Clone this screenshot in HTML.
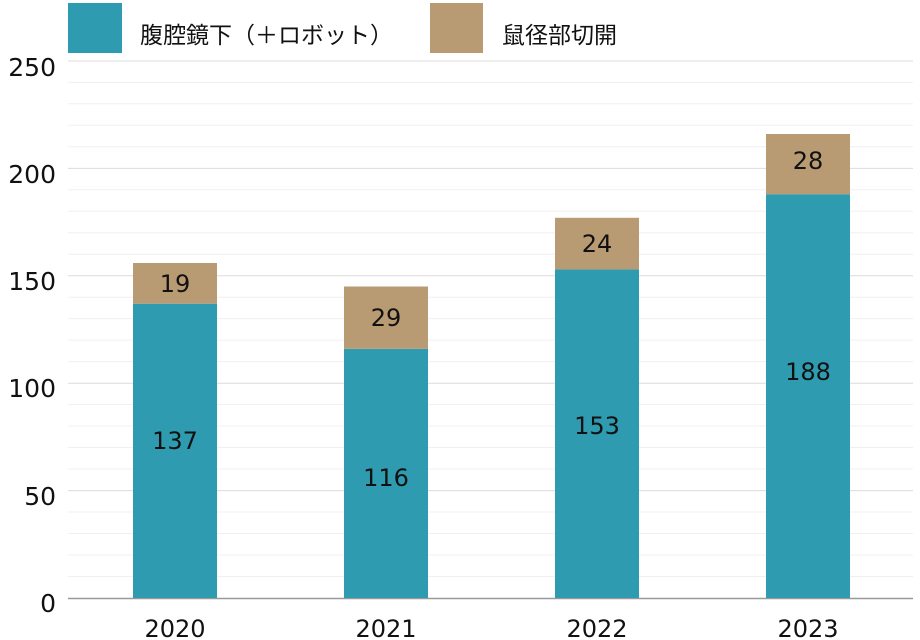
<!DOCTYPE html>
<html><head><meta charset="utf-8"><style>
html,body{margin:0;padding:0;background:#fff;width:920px;height:640px;overflow:hidden}
text{font-family:"DejaVu Sans","Noto Sans CJK JP",sans-serif}
</style></head><body>
<svg width="920" height="640" xmlns="http://www.w3.org/2000/svg">
<g stroke="#f0f0f0" stroke-width="1">
<line x1="68" x2="913" y1="576.5" y2="576.5"/><line x1="68" x2="913" y1="555" y2="555"/><line x1="68" x2="913" y1="533.5" y2="533.5"/><line x1="68" x2="913" y1="512" y2="512"/>
<line x1="68" x2="913" y1="469" y2="469"/><line x1="68" x2="913" y1="447.5" y2="447.5"/><line x1="68" x2="913" y1="426" y2="426"/><line x1="68" x2="913" y1="404.5" y2="404.5"/>
<line x1="68" x2="913" y1="361.6" y2="361.6"/><line x1="68" x2="913" y1="340.1" y2="340.1"/><line x1="68" x2="913" y1="318.6" y2="318.6"/><line x1="68" x2="913" y1="297.2" y2="297.2"/>
<line x1="68" x2="913" y1="254.2" y2="254.2"/><line x1="68" x2="913" y1="232.7" y2="232.7"/><line x1="68" x2="913" y1="211.2" y2="211.2"/><line x1="68" x2="913" y1="189.8" y2="189.8"/>
<line x1="68" x2="913" y1="146.8" y2="146.8"/><line x1="68" x2="913" y1="125.3" y2="125.3"/><line x1="68" x2="913" y1="103.8" y2="103.8"/><line x1="68" x2="913" y1="82.4" y2="82.4"/>
</g>
<g stroke="#dcdcdc" stroke-width="1">
<line x1="68" x2="913" y1="490.6" y2="490.6"/><line x1="68" x2="913" y1="383.2" y2="383.2"/><line x1="68" x2="913" y1="275.8" y2="275.8"/><line x1="68" x2="913" y1="168.4" y2="168.4"/><line x1="68" x2="913" y1="61" y2="61"/>
</g>
<line x1="68" x2="913" y1="598.5" y2="598.5" stroke="#999" stroke-width="1.5"/>
<g font-size="25" fill="#111" text-anchor="end">
<text x="56" y="612">0</text><text x="56" y="505">50</text><text x="56" y="397">100</text><text x="56" y="290">150</text><text x="56" y="183">200</text><text x="56" y="76">250</text>
</g>
<g fill="#2e9bb0">
<rect x="133" y="303.7" width="84" height="294.3"/><rect x="344" y="348.8" width="84" height="249.2"/><rect x="555" y="269.4" width="84" height="328.6"/><rect x="766" y="194.2" width="84" height="403.8"/>
</g>
<g fill="#b89b72">
<rect x="133" y="263" width="84" height="40.7"/><rect x="344" y="286.5" width="84" height="62.3"/><rect x="555" y="217.8" width="84" height="51.6"/><rect x="766" y="134" width="84" height="60.2"/>
</g>
<g font-size="24" fill="#111" text-anchor="middle">
<text x="175" y="292">19</text><text x="175" y="449">137</text>
<text x="386" y="326">29</text><text x="386" y="486">116</text>
<text x="597" y="252">24</text><text x="597" y="434">153</text>
<text x="808" y="169">28</text><text x="808" y="380">188</text>
<text x="175" y="637">2020</text><text x="386" y="637">2021</text><text x="597" y="637">2022</text><text x="808" y="637">2023</text>
</g>
<rect x="68" y="3" width="54" height="50" fill="#2e9bb0"/>
<text x="140" y="43" font-size="23" fill="#111">腹腔鏡下（＋ロボット）</text>
<rect x="430" y="3" width="53" height="50" fill="#b89b72"/>
<text x="502" y="43" font-size="23" fill="#111">鼠径部切開</text>
</svg>
</body></html>
